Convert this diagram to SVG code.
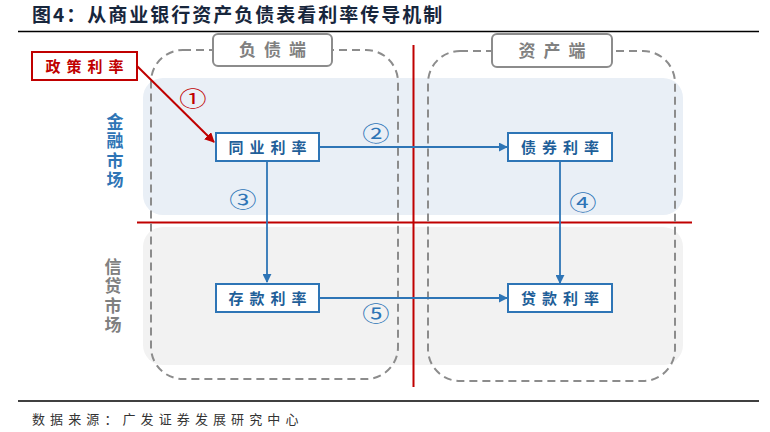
<svg xmlns="http://www.w3.org/2000/svg" width="770" height="432" viewBox="0 0 770 432">
<defs>
<style>
text{font-family:"Noto Sans CJK SC","Noto Sans",sans-serif;}
.title{font-size:19px;font-weight:bold;fill:#17263c;letter-spacing:2px;}
.src{font-size:13px;fill:#333;letter-spacing:5.1px;}
.rule{stroke:#000;stroke-width:1.5;}
.red{stroke:#c00000;stroke-width:2;fill:none;}
.dash{fill:none;stroke:#8c8c8c;stroke-width:2;stroke-dasharray:8 5;}
.hdr{fill:#fff;stroke:#8c8c8c;stroke-width:2;}
.hdrt{font-size:17px;font-weight:bold;fill:#808080;letter-spacing:8px;text-anchor:middle;}
.node{fill:#fff;stroke:#2e75b6;stroke-width:2;}
.nodet{font-size:15px;font-weight:bold;fill:#1f5f99;letter-spacing:6px;text-anchor:middle;}
.conn{stroke:#2e75b6;stroke-width:1.8;fill:none;}
.num{font-size:21px;fill:#2e75b6;text-anchor:middle;}
.side{font-size:17px;font-weight:bold;writing-mode:vertical-rl;text-orientation:upright;letter-spacing:2.5px;}
</style>
<marker id="ab" viewBox="0 0 10 10" refX="9" refY="5" markerWidth="5" markerHeight="5" orient="auto">
<path d="M0,0 L10,5 L0,10 z" fill="#2e75b6"/>
</marker>
<marker id="ar" viewBox="0 0 10 10" refX="9" refY="5" markerWidth="5" markerHeight="5" orient="auto">
<path d="M0,0 L10,5 L0,10 z" fill="#c00000"/>
</marker>
</defs>
<rect width="770" height="432" fill="#fff"/>
<text class="title" x="32" y="22">图4：从商业银行资产负债表看利率传导机制</text>
<line class="rule" x1="18" y1="31.5" x2="759" y2="31.5"/>
<g id="regions">
<rect x="143" y="78" width="540" height="137" rx="20" fill="#e9eff6"/>
<rect x="143" y="227" width="540" height="138" rx="20" fill="#f2f2f2"/>
<line class="red" x1="137" y1="222.5" x2="692" y2="222.5"/>
<line class="red" x1="413.5" y1="45" x2="413.5" y2="387"/>
</g>
<g id="liability">
<rect class="dash" x="151" y="50" width="247" height="329" rx="32"/>
<rect class="hdr" x="213" y="34" width="119" height="32" rx="5"/>
<text class="hdrt" x="276.5" y="56">负债端</text>
</g>
<g id="asset">
<rect class="dash" x="428" y="51" width="247" height="330" rx="32"/>
<rect class="hdr" x="492" y="34" width="120" height="33" rx="5"/>
<text class="hdrt" x="556" y="57">资产端</text>
</g>
<g id="side-labels">
<text class="side" x="115" y="113" fill="#2e75b6">金融市场</text>
<text class="side" x="113" y="258" fill="#808080">信贷市场</text>
</g>
<g id="connectors">
<line class="red" x1="137" y1="66" x2="214" y2="142" marker-end="url(#ar)"/>
<line class="conn" x1="319" y1="147" x2="507" y2="147" marker-end="url(#ab)"/>
<line class="conn" x1="267" y1="161" x2="267" y2="282" marker-end="url(#ab)"/>
<line class="conn" x1="560" y1="161" x2="560" y2="283" marker-end="url(#ab)"/>
<line class="conn" x1="319" y1="298" x2="507" y2="298" marker-end="url(#ab)"/>
<text class="num" transform="translate(193,106) scale(1.3,1)" style="fill:#c00000">①</text>
<text class="num" transform="translate(376,141) scale(1.3,1)">②</text>
<text class="num" transform="translate(243,207) scale(1.3,1)">③</text>
<text class="num" transform="translate(583,210) scale(1.3,1)">④</text>
<text class="num" transform="translate(376,321) scale(1.3,1)">⑤</text>
</g>
<g id="policy">
<rect x="32" y="52" width="105" height="28" fill="#fff" stroke="#c00000" stroke-width="2"/>
<text class="nodet" x="87.5" y="71.5" style="fill:#c00000">政策利率</text>
</g>
<g id="interbank">
<rect class="node" x="216" y="133" width="103" height="28"/>
<text class="nodet" x="270.5" y="152.5">同业利率</text>
</g>
<g id="bond">
<rect class="node" x="508" y="133" width="104" height="28"/>
<text class="nodet" x="563" y="152.5">债券利率</text>
</g>
<g id="deposit">
<rect class="node" x="216" y="284" width="103" height="28"/>
<text class="nodet" x="270.5" y="303.5">存款利率</text>
</g>
<g id="loan">
<rect class="node" x="508" y="284" width="104" height="28"/>
<text class="nodet" x="563" y="303.5">贷款利率</text>
</g>
<line class="rule" x1="18" y1="401" x2="759" y2="401"/>
<text class="src" x="32" y="424">数据来源：广发证券发展研究中心</text>
</svg>
